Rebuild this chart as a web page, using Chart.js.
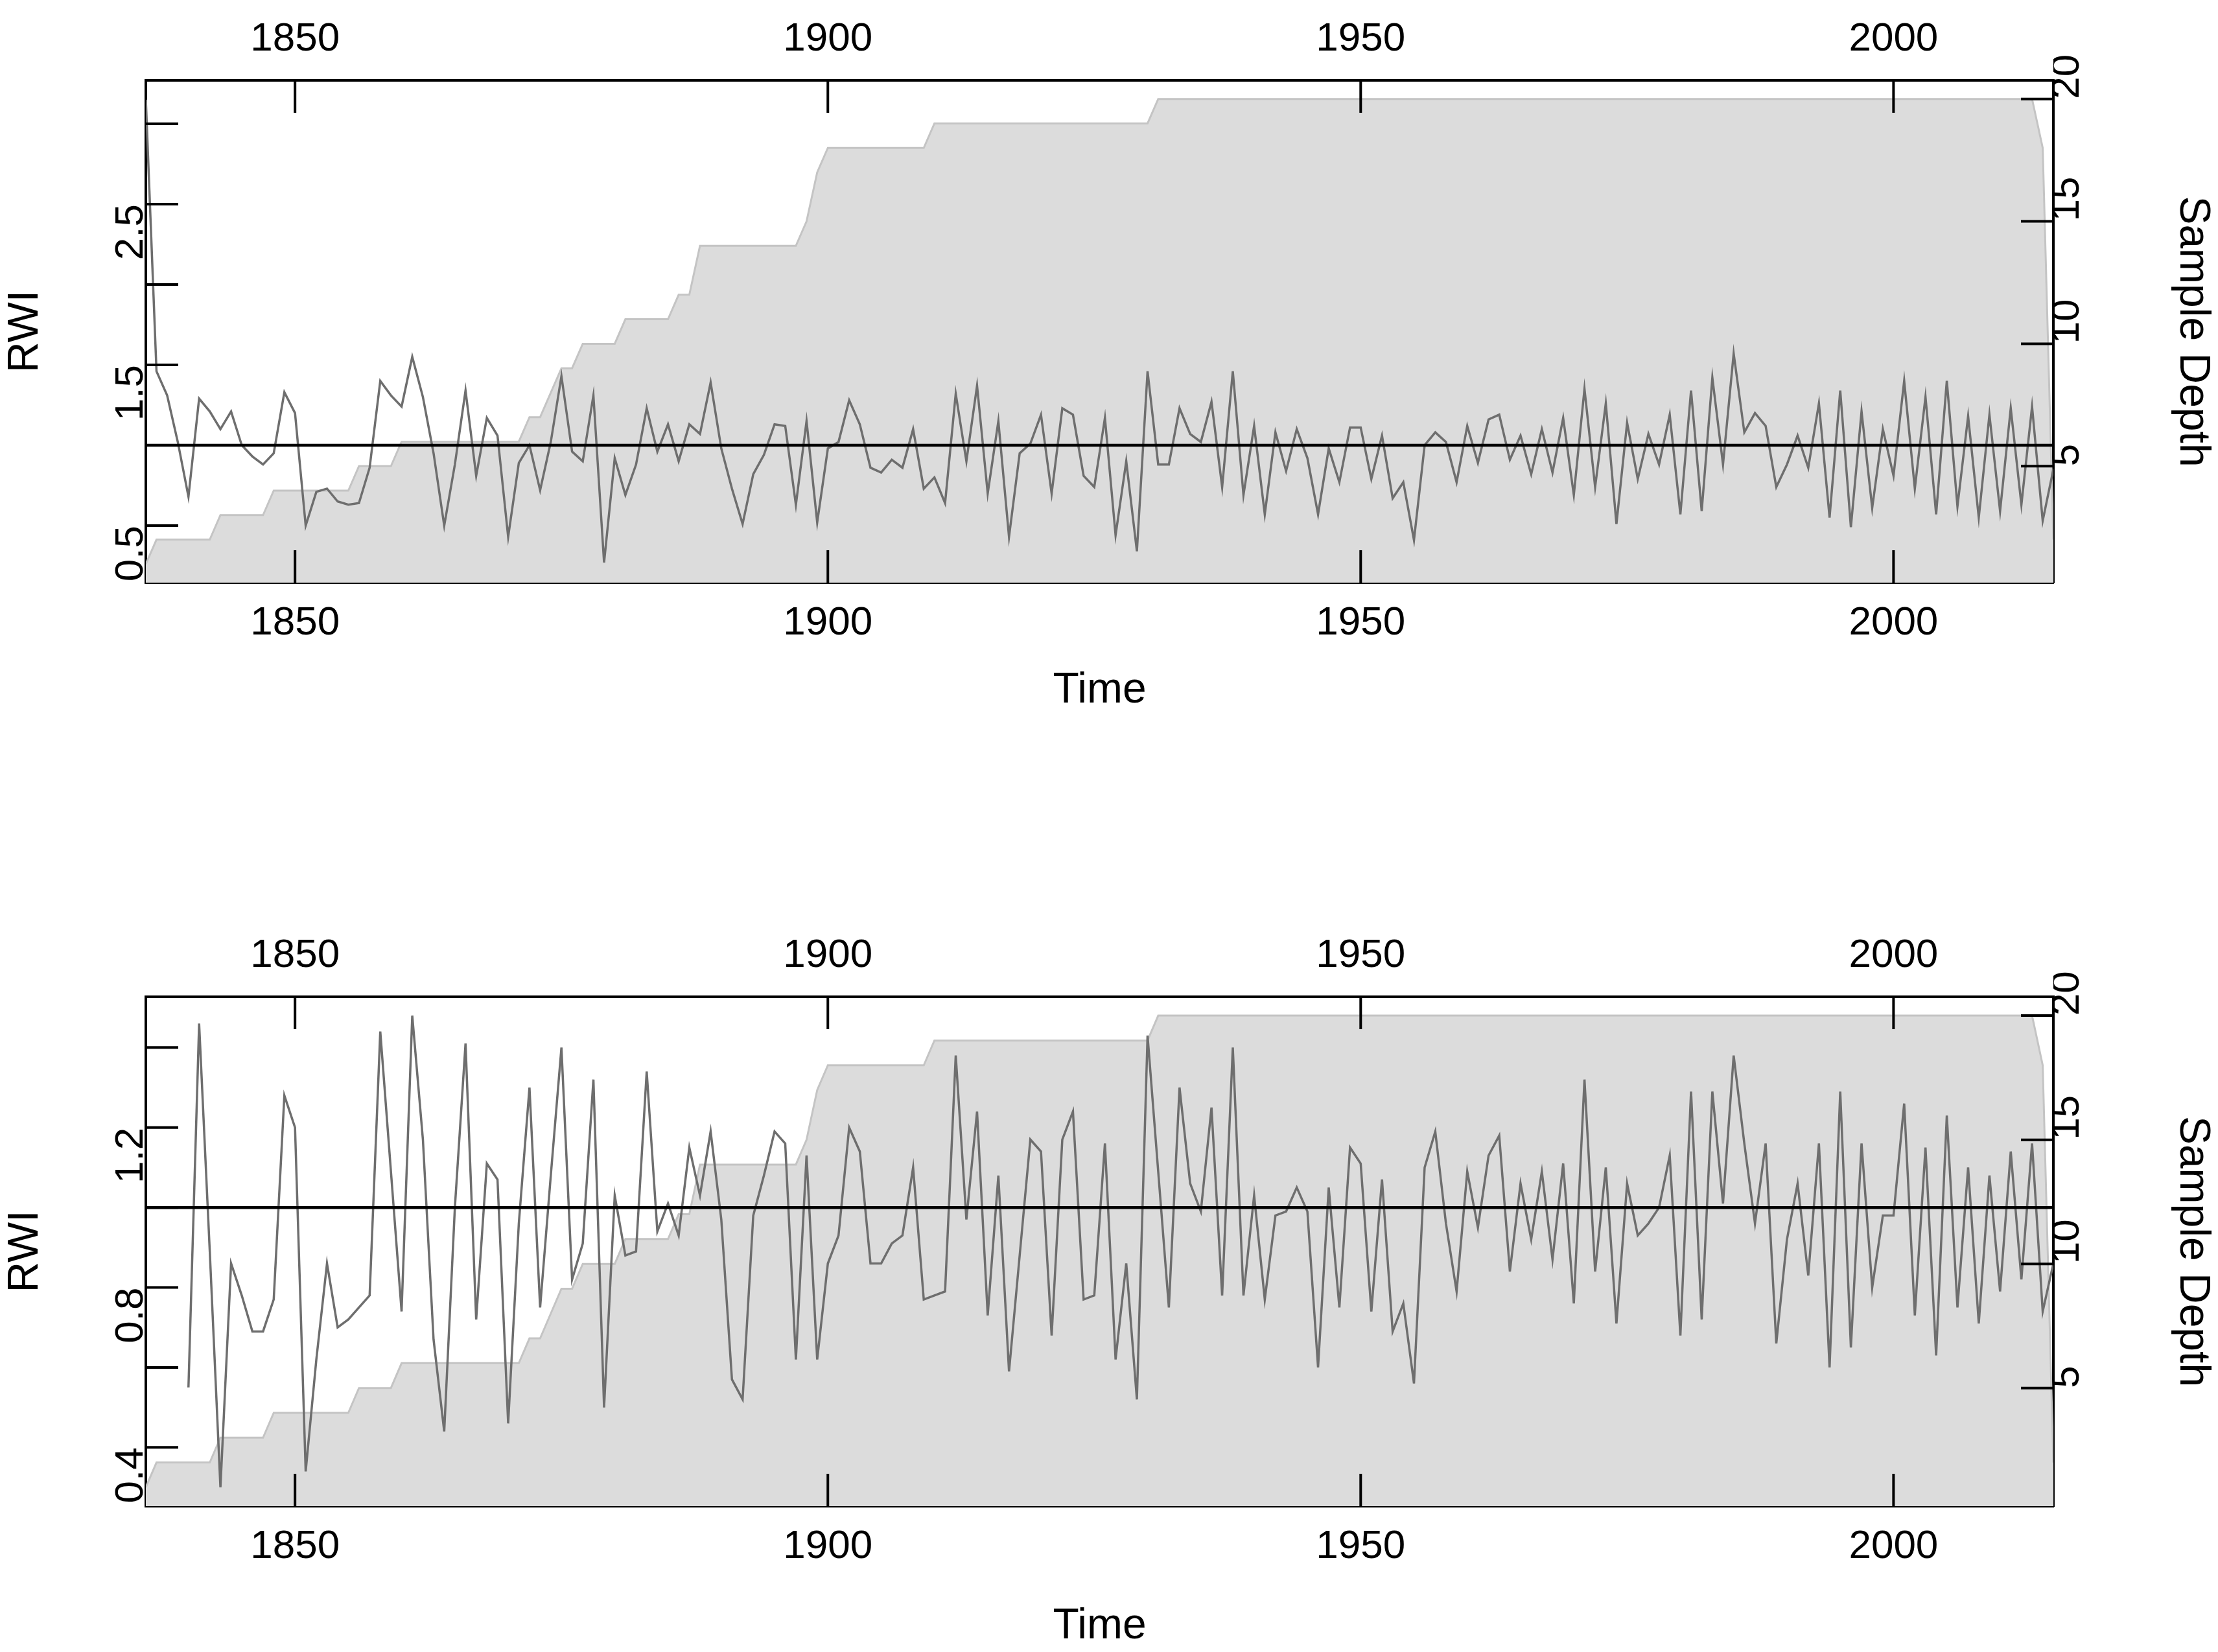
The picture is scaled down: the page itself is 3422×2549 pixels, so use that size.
<!DOCTYPE html>
<html>
<head>
<meta charset="utf-8">
<script src="https://cdn.jsdelivr.net/npm/chart.js@4.4.1/dist/chart.umd.min.js"></script>
<style>
  html, body { margin: 0; padding: 0; background: #fff; }
  .panel { position: absolute; left: 0; width: 3422px; }
</style>
</head>
<body>
<div class="panel" style="top:0;height:1275px"><canvas id="top"></canvas></div>
<div class="panel" style="top:1275px;height:1274px"><canvas id="bottom"></canvas></div>
<script>
// years 1836..2015
const years = Array.from({ length: 180 }, (_, i) => 1836 + i);
const yearTicks = [1850, 1900, 1950, 2000];

// sample depth (same for both panels)
const sampleDepth = [
  1, 2, 2, 2, 2, 2, 2, 3, 3, 3, 3, 3, 4, 4, 4, 4, 4, 4, 4, 4,
  5, 5, 5, 5, 6, 6, 6, 6, 6, 6, 6, 6, 6, 6, 6, 6, 7, 7, 8, 9,
  9, 10, 10, 10, 10, 11, 11, 11, 11, 11, 12, 12, 14, 14, 14, 14, 14, 14, 14, 14,
  14, 14, 15, 17, 18, 18, 18, 18, 18, 18, 18, 18, 18, 18, 19, 19, 19, 19, 19, 19,
  19, 19, 19, 19, 19, 19, 19, 19, 19, 19, 19, 19, 19, 19, 19, 20, 20, 20, 20, 20,
  20, 20, 20, 20, 20, 20, 20, 20, 20, 20, 20, 20, 20, 20, 20, 20, 20, 20, 20, 20,
  20, 20, 20, 20, 20, 20, 20, 20, 20, 20, 20, 20, 20, 20, 20, 20, 20, 20, 20, 20,
  20, 20, 20, 20, 20, 20, 20, 20, 20, 20, 20, 20, 20, 20, 20, 20, 20, 20, 20, 20,
  20, 20, 20, 20, 20, 20, 20, 20, 20, 20, 20, 20, 20, 20, 20, 20, 20, 20, 18, 2
];

// RWI, upper panel
const rwiTop = [
  3.15, 1.46, 1.31, 1.02, 0.68, 1.29, 1.21, 1.10, 1.21, 1.00,
  0.93, 0.88, 0.95, 1.33, 1.20, 0.50, 0.71, 0.73, 0.65, 0.63,
  0.64, 0.86, 1.40, 1.31, 1.24, 1.55, 1.30, 0.95, 0.50, 0.88,
  1.34, 0.81, 1.17, 1.06, 0.43, 0.89, 1.00, 0.72, 1.02, 1.43,
  0.96, 0.90, 1.31, 0.27, 0.92, 0.69, 0.88, 1.23, 0.96, 1.13,
  0.90, 1.13, 1.07, 1.39, 0.98, 0.73, 0.51, 0.82, 0.94, 1.13,
  1.12, 0.63, 1.15, 0.52, 0.98, 1.02, 1.28, 1.13, 0.86, 0.83,
  0.91, 0.86, 1.10, 0.73, 0.80, 0.64, 1.32, 0.90, 1.37, 0.70,
  1.15, 0.43, 0.95, 1.01, 1.19, 0.70, 1.23, 1.19, 0.81, 0.74,
  1.17, 0.44, 0.90, 0.34, 1.46, 0.88, 0.88, 1.23, 1.07, 1.02,
  1.27, 0.74, 1.46, 0.69, 1.12, 0.57, 1.08, 0.84, 1.10, 0.92,
  0.57, 0.98, 0.77, 1.11, 1.11, 0.79, 1.06, 0.67, 0.77, 0.41,
  1.00, 1.08, 1.02, 0.77, 1.12, 0.89, 1.16, 1.19, 0.91, 1.06,
  0.82, 1.10, 0.83, 1.17, 0.69, 1.35, 0.74, 1.26, 0.51, 1.14,
  0.79, 1.07, 0.88, 1.19, 0.57, 1.34, 0.59, 1.42, 0.88, 1.57,
  1.08, 1.20, 1.12, 0.74, 0.88, 1.06, 0.86, 1.26, 0.55, 1.34,
  0.49, 1.21, 0.61, 1.10, 0.81, 1.40, 0.73, 1.30, 0.57, 1.40,
  0.62, 1.18, 0.55, 1.19, 0.59, 1.23, 0.63, 1.24, 0.53, 0.85
];

// RWI, lower panel (starts 1840)
const rwiBottom = [
  null, null, null, null, 0.55, 1.46, 0.89, 0.30, 0.86, 0.78,
  0.69, 0.69, 0.77, 1.28, 1.20, 0.34, 0.62, 0.86, 0.70, 0.72,
  0.75, 0.78, 1.44, 1.09, 0.74, 1.48, 1.17, 0.67, 0.44, 1.00,
  1.41, 0.72, 1.11, 1.07, 0.46, 0.96, 1.30, 0.75, 1.08, 1.40,
  0.82, 0.91, 1.32, 0.50, 1.03, 0.88, 0.89, 1.34, 0.94, 1.01,
  0.93, 1.15, 1.03, 1.19, 0.97, 0.57, 0.52, 0.98, 1.08, 1.19,
  1.16, 0.62, 1.13, 0.62, 0.86, 0.93, 1.20, 1.14, 0.86, 0.86,
  0.91, 0.93, 1.10, 0.77, 0.78, 0.79, 1.38, 0.97, 1.24, 0.73,
  1.08, 0.59, 0.88, 1.17, 1.14, 0.68, 1.17, 1.24, 0.77, 0.78,
  1.16, 0.62, 0.86, 0.52, 1.43, 1.09, 0.75, 1.30, 1.06, 0.99,
  1.25, 0.78, 1.40, 0.78, 1.03, 0.77, 0.98, 0.99, 1.05, 0.99,
  0.60, 1.05, 0.75, 1.15, 1.11, 0.74, 1.07, 0.69, 0.76, 0.56,
  1.10, 1.19, 0.96, 0.79, 1.09, 0.95, 1.13, 1.18, 0.84, 1.06,
  0.92, 1.09, 0.87, 1.11, 0.76, 1.32, 0.84, 1.10, 0.71, 1.06,
  0.93, 0.96, 1.00, 1.13, 0.68, 1.29, 0.72, 1.29, 1.01, 1.38,
  1.16, 0.96, 1.16, 0.66, 0.92, 1.06, 0.83, 1.16, 0.60, 1.29,
  0.65, 1.16, 0.80, 0.98, 0.98, 1.26, 0.73, 1.15, 0.63, 1.23,
  0.75, 1.10, 0.71, 1.08, 0.79, 1.14, 0.82, 1.16, 0.74, 0.86
];

const topRwiTicks = [0.5, 1.0, 1.5, 2.0, 2.5, 3.0];
const topRwiLabels = ['0.5', '1.5', '2.5'];
const bottomRwiTicks = [0.4, 0.6, 0.8, 1.0, 1.2, 1.4];
const bottomRwiLabels = ['0.4', '0.8', '1.2'];
const depthTicks = [5, 10, 15, 20];

const FONT = { family: 'Liberation Sans, Arial, sans-serif', size: 62 };

// inward tick marks like R's plot
const inwardTicks = {
  id: 'inwardTicks',
  afterDatasetsDraw(chart) {
    const { ctx, chartArea: a } = chart;
    const len = 50;
    ctx.save();
    ctx.strokeStyle = '#000';
    ctx.lineWidth = 4;
    ctx.beginPath();
    ['x', 'x2'].forEach(id => {
      const s = chart.scales[id];
      s.ticks.forEach(t => {
        const px = s.getPixelForValue(t.value);
        const y0 = id === 'x' ? a.bottom : a.top;
        ctx.moveTo(px, y0);
        ctx.lineTo(px, id === 'x' ? y0 - len : y0 + len);
      });
    });
    ['y', 'y2'].forEach(id => {
      const s = chart.scales[id];
      s.ticks.forEach(t => {
        const py = s.getPixelForValue(t.value);
        const x0 = id === 'y' ? a.left : a.right;
        ctx.moveTo(x0, py);
        ctx.lineTo(id === 'y' ? x0 + len : x0 - len, py);
      });
    });
    ctx.stroke();
    ctx.restore();
  }
};

function makePanel(canvasId, rwi, rwiRange, rwiTicks, rwiLabels, dims) {
  const pts = arr => years.map((yr, i) => ({ x: yr, y: arr[i] }));
  const fixTicks = list => s => { s.ticks = list.map(v => ({ value: v })); };
  return new Chart(document.getElementById(canvasId), {
    type: 'line',
    data: {
      datasets: [
        {
          data: [{ x: 1836, y: 1 }, { x: 2015, y: 1 }],
          yAxisID: 'y', borderColor: '#000', borderWidth: 4.5,
          pointRadius: 0, order: 0
        },
        {
          data: pts(rwi),
          yAxisID: 'y', borderColor: '#6e6e6e', borderWidth: 3.5,
          pointRadius: 0, spanGaps: false, order: 1
        },
        {
          data: pts(sampleDepth),
          yAxisID: 'y2', borderColor: '#c4c4c4', borderWidth: 3,
          backgroundColor: '#dcdcdc', fill: 'start',
          pointRadius: 0, order: 2
        }
      ]
    },
    options: {
      responsive: true,
      maintainAspectRatio: false,
      devicePixelRatio: 1,
      animation: false,
      layout: { padding: 0 },
      plugins: { legend: { display: false }, tooltip: { enabled: false } },
      scales: {
        x: {
          type: 'linear', position: 'bottom', min: 1836, max: 2015,
          afterBuildTicks: fixTicks(yearTicks),
          afterFit: s => { s.height = dims.bottom; },
          grid: { display: false },
          border: { display: true, color: '#000', width: 4 },
          ticks: { color: '#000', font: FONT, padding: 18, maxRotation: 0,
                   callback: v => String(v) },
          title: dims.time ? { display: true, text: 'Time', color: '#000',
                   font: { ...FONT, size: 66 }, padding: { top: 0, bottom: dims.timePad } }
                 : { display: false }
        },
        x2: {
          type: 'linear', position: 'top', min: 1836, max: 2015,
          afterBuildTicks: fixTicks(yearTicks),
          afterFit: s => { s.height = dims.top; },
          grid: { display: false },
          border: { display: true, color: '#000', width: 4 },
          ticks: { color: '#000', font: FONT, padding: 18, maxRotation: 0,
                   callback: v => String(v) }
        },
        y: {
          type: 'linear', position: 'left', min: rwiRange[0], max: rwiRange[1],
          afterBuildTicks: fixTicks(rwiTicks),
          afterFit: s => { s.width = 225; },
          grid: { display: false },
          border: { display: true, color: '#000', width: 4 },
          ticks: { color: '#000', font: FONT, padding: 14, minRotation: 90, maxRotation: 90,
                   callback: v => { const t = v.toFixed(1); return rwiLabels.includes(t) ? t : ''; } },
          title: { display: true, text: 'RWI', color: '#000', font: { ...FONT, size: 66 },
                   padding: { top: 0, bottom: 0 } }
        },
        y2: {
          type: 'linear', position: 'right', min: 0.24, max: 20.76,
          afterBuildTicks: fixTicks(depthTicks),
          afterFit: s => { s.width = 254; },
          grid: { display: false },
          border: { display: true, color: '#000', width: 4 },
          ticks: { color: '#000', font: FONT, padding: 14, minRotation: 90, maxRotation: 90,
                   callback: v => String(v) },
          title: { display: true, text: 'Sample Depth', color: '#000', font: { ...FONT, size: 66 },
                   padding: { top: 0, bottom: 0 } }
        }
      }
    },
    plugins: [inwardTicks]
  });
}

makePanel('top', rwiTop, [0.145, 3.27], topRwiTicks, topRwiLabels,
  { top: 124, bottom: 376, time: true, timePad: 170 });
makePanel('bottom', rwiBottom, [0.253, 1.527], bottomRwiTicks, bottomRwiLabels,
  { top: 263, bottom: 225, time: true, timePad: 0 });
</script>
</body>
</html>
